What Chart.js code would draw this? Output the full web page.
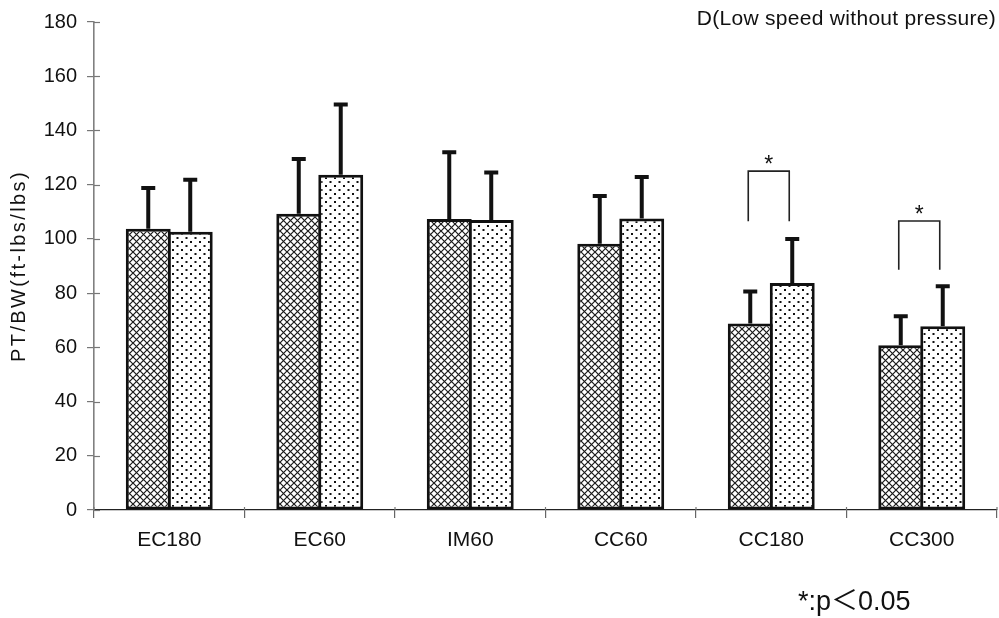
<!DOCTYPE html>
<html>
<head>
<meta charset="utf-8">
<script src="https://cdn.jsdelivr.net/npm/chart.js@4/dist/chart.umd.min.js"></script>
<style>
  html, body { margin: 0; padding: 0; background: #fff; }
  #wrap { width: 999px; height: 618px; }
</style>
</head>
<body>
<div id="wrap"><canvas id="myChart" width="999" height="618"></canvas></div>
<script>
// categories and values
var categories = ["EC180", "EC60", "IM60", "CC60", "CC180", "CC300"];
var hatchMean = [103.7, 109.3, 107.3, 98.2, 68.8, 60.8];
var hatchSD   = [15.1, 20.2, 24.7, 17.6, 11.8, 10.7];
var dotMean   = [102.6, 123.7, 107.0, 107.5, 83.7, 67.8];
var dotSD     = [19.2, 25.9, 17.5, 15.3, 16.3, 14.7];
// significance brackets: category index, bracket top value, leg end value
var sigIndex  = [4, 5];
var sigTop    = [125.0, 106.6];
var sigBottom = [106.5, 88.6];

var yTitle = "PT/BW(ft-lbs/lbs)";
var panelTitle = "D(Low speed without pressure)";
var footNote = "*:p\uFF1C0.05";

var FONT = "'Liberation Sans', Arial, 'Noto Sans CJK JP', sans-serif";

function makeCrossHatch() {
    var c = document.createElement("canvas");
    c.width = 7; c.height = 7;
    var g = c.getContext("2d");
    g.fillStyle = "#fff";
    g.fillRect(0, 0, 7, 7);
    g.strokeStyle = "#1a1a1a";
    g.lineWidth = 1.2;
    g.beginPath();
    g.moveTo(-1, -1); g.lineTo(8, 8);
    g.moveTo(8, -1); g.lineTo(-1, 8);
    g.stroke();
    return g.createPattern(c, "repeat");
}

function makeDots() {
    var c = document.createElement("canvas");
    c.width = 9; c.height = 8;
    var g = c.getContext("2d");
    g.fillStyle = "#fff";
    g.fillRect(0, 0, 9, 8);
    g.fillStyle = "#111";
    g.fillRect(1, 1, 2, 2);
    g.fillRect(5.5, 5, 2, 2);
    return g.createPattern(c, "repeat");
}

var sdList = [hatchSD, dotSD];

var extras = {
    id: "extras",
    afterDatasetsDraw: function (chart) {
        var ctx = chart.ctx;
        var ys = chart.scales.y;
        var area = chart.chartArea;
        ctx.save();

        // error bars (upper only)
        ctx.strokeStyle = "#111";
        ctx.lineWidth = 4;
        for (var d = 0; d < chart.data.datasets.length; d++) {
            var meta = chart.getDatasetMeta(d);
            var vals = chart.data.datasets[d].data;
            meta.data.forEach(function (bar, i) {
                var yTop = ys.getPixelForValue(vals[i] + sdList[d][i]);
                ctx.beginPath();
                ctx.moveTo(bar.x, bar.y);
                ctx.lineTo(bar.x, yTop);
                ctx.moveTo(bar.x - 7, yTop);
                ctx.lineTo(bar.x + 7, yTop);
                ctx.stroke();
            });
        }

        // significance brackets
        ctx.lineWidth = 1.6;
        ctx.strokeStyle = "#222";
        ctx.fillStyle = "#111";
        ctx.font = "23px " + FONT;
        ctx.textAlign = "center";
        ctx.textBaseline = "alphabetic";
        for (var k = 0; k < sigIndex.length; k++) {
            var idx = sigIndex[k];
            var x1 = chart.getDatasetMeta(0).data[idx].x - 2;
            var x2 = chart.getDatasetMeta(1).data[idx].x - 3;
            var yt = ys.getPixelForValue(sigTop[k]);
            var yb = ys.getPixelForValue(sigBottom[k]);
            ctx.beginPath();
            ctx.moveTo(x1, yb);
            ctx.lineTo(x1, yt);
            ctx.lineTo(x2, yt);
            ctx.lineTo(x2, yb);
            ctx.stroke();
            ctx.fillText("*", (x1 + x2) / 2, yt + 1);
        }

        // inner parts of the axis tick marks
        ctx.strokeStyle = "#777";
        ctx.lineWidth = 1.2;
        ys.ticks.forEach(function (t) {
            var py = Math.round(ys.getPixelForValue(t.value)) + 0.5;
            ctx.beginPath();
            ctx.moveTo(area.left, py);
            ctx.lineTo(area.left + 6, py);
            ctx.stroke();
        });
        for (var j = 0; j <= categories.length; j++) {
            var px = area.left + (area.right - area.left) * j / categories.length;
            ctx.beginPath();
            ctx.moveTo(px, area.bottom);
            ctx.lineTo(px, area.bottom - 3);
            ctx.stroke();
        }

        // texts
        ctx.fillStyle = "#111";
        ctx.font = "21px " + FONT;
        ctx.textAlign = "right";
        ctx.textBaseline = "middle";
        ctx.letterSpacing = "0.3px";
        ctx.fillText(panelTitle, 996, 19);

        ctx.font = "27px " + FONT;
        ctx.textAlign = "left";
        ctx.letterSpacing = "0px";
        ctx.fillText(footNote, 798, 603);

        ctx.save();
        ctx.translate(19, 266);
        ctx.rotate(-Math.PI / 2);
        ctx.font = "20px " + FONT;
        ctx.textAlign = "center";
        ctx.letterSpacing = "2.4px";
        ctx.fillText(yTitle, 0, 0);
        ctx.restore();

        ctx.restore();
    }
};

var ctx = document.getElementById("myChart").getContext("2d");
var mychart = new Chart(ctx, {
    type: "bar",
    data: {
        labels: categories,
        datasets: [
            {
                label: "A",
                data: hatchMean,
                backgroundColor: makeCrossHatch(),
                borderColor: "#111",
                borderWidth: 3,
                borderSkipped: false
            },
            {
                label: "B",
                data: dotMean,
                backgroundColor: makeDots(),
                borderColor: "#111",
                borderWidth: 3,
                borderSkipped: false
            }
        ]
    },
    options: {
        responsive: false,
        animation: false,
        events: [],
        layout: { padding: { top: 20, right: 2, left: 0, bottom: 0 } },
        datasets: { bar: { categoryPercentage: 0.558, barPercentage: 1.07 } },
        plugins: {
            legend: { display: false },
            tooltip: { enabled: false },
            title: { display: false }
        },
        scales: {
            x: {
                grid: { display: true, drawOnChartArea: false, drawTicks: true, tickLength: 8, color: "#666", lineWidth: 1.2 },
                border: { display: true, color: "#222", width: 1.2 },
                ticks: { color: "#111", font: { family: FONT, size: 21 }, padding: 10 },
                afterFit: function (s) { s.height = 108; }
            },
            y: {
                min: 0,
                max: 180,
                grid: { display: true, drawOnChartArea: false, drawTicks: true, tickLength: 7, color: "#777", lineWidth: 1.2 },
                border: { display: true, color: "#808080", width: 1.6 },
                ticks: { stepSize: 20, color: "#111", font: { family: FONT, size: 20 }, padding: 10 },
                afterFit: function (s) { s.width = 94; }
            }
        }
    },
    plugins: [extras]
});
</script>
</body>
</html>
